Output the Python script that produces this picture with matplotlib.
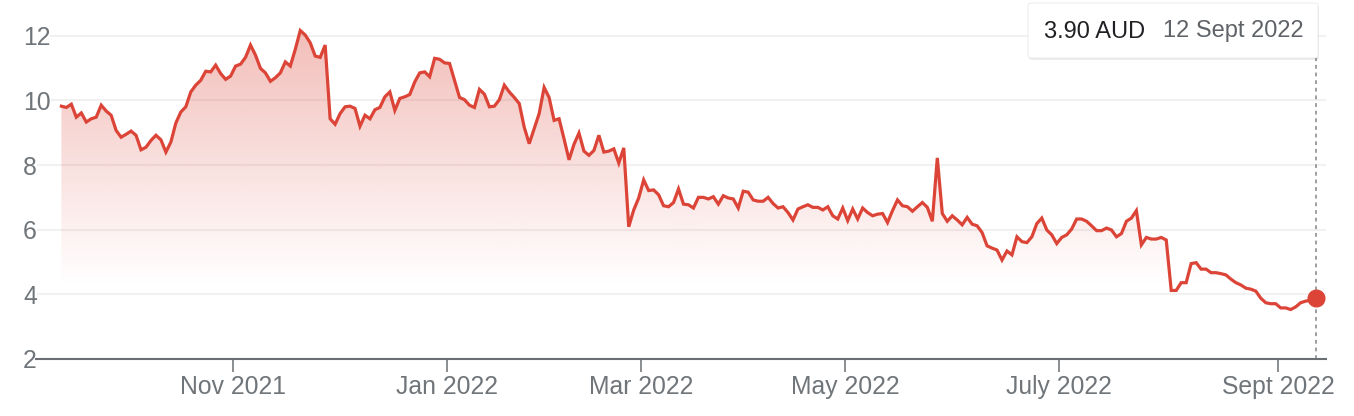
import numpy as np
import pandas as pd
import matplotlib
matplotlib.use('Agg')
import matplotlib.pyplot as plt
from matplotlib.patches import Polygon, FancyBboxPatch
from matplotlib.colors import to_rgb

plt.rcParams['font.family'] = ['Liberation Sans', 'DejaVu Sans']

# daily close, AUD, one value per ASX trading day
close = [
    9.82, 9.78, 9.88, 9.48, 9.61, 9.33, 9.43, 9.48, 9.85, 9.67,
    9.54, 9.07, 8.86, 8.95, 9.05, 8.92, 8.47, 8.55, 8.76, 8.92,
    8.78, 8.40, 8.71, 9.30, 9.64, 9.80, 10.26, 10.47, 10.62, 10.90,
    10.88, 11.09, 10.83, 10.65, 10.75, 11.06, 11.12, 11.33, 11.71, 11.40,
    10.99, 10.85, 10.59, 10.70, 10.85, 11.19, 11.06, 11.58, 12.16, 12.02,
    11.78, 11.37, 11.33, 11.71, 9.43, 9.26, 9.59, 9.80,
    9.82, 9.75, 9.20, 9.54, 9.43, 9.71, 9.78, 10.11, 10.26, 9.69,
    10.06, 10.11, 10.18, 10.57, 10.85, 10.88, 10.73, 11.30, 11.27, 11.16,
    11.14, 10.62, 10.09, 10.02, 9.85, 9.78, 10.34, 10.19, 9.80, 9.82,
    10.02, 10.47, 10.26, 10.09, 9.90, 9.17, 8.66, 9.12, 9.59, 10.40,
    10.09, 9.38, 9.43, 8.81, 8.16, 8.64, 8.99, 8.43, 8.30, 8.45,
    8.92, 8.40, 8.43, 8.50, 8.06, 8.53, 6.09, 6.61, 6.98, 7.54,
    7.21,
    7.23, 7.08, 6.74, 6.71, 6.84, 7.26, 6.79, 6.77, 6.67, 7.00,
    7.00, 6.95, 7.02, 6.79, 7.05, 6.98, 6.95, 6.67, 7.19, 7.16,
    6.92, 6.88, 6.88, 7.00, 6.81, 6.67, 6.71, 6.53, 6.30, 6.64,
    6.71, 6.77, 6.69, 6.69, 6.61, 6.71, 6.43, 6.33, 6.67, 6.28,
    6.64, 6.33, 6.67, 6.53, 6.43, 6.48, 6.50, 6.22, 6.59, 6.92,
    6.74, 6.71, 6.57, 6.71, 6.84, 6.69, 6.26, 8.22, 6.50, 6.26,
    6.43, 6.30, 6.15, 6.38, 6.17, 6.12, 5.91, 5.50, 5.43, 5.37,
    5.06, 5.34, 5.22, 5.78, 5.63, 5.60, 5.78, 6.19, 6.36, 5.99,
    5.84, 5.57, 5.76, 5.84, 6.02, 6.33, 6.33, 6.26, 6.12, 5.97,
    5.97, 6.05, 5.99, 5.78, 5.88, 6.26, 6.36, 6.59, 5.53, 5.76,
    5.71, 5.71, 5.76, 5.68, 4.12, 4.12, 4.36, 4.36, 4.95, 4.98,
    4.78, 4.78, 4.67, 4.67, 4.64, 4.60, 4.47, 4.36, 4.29, 4.19,
    4.16, 4.10, 3.88, 3.74, 3.71, 3.71, 3.58, 3.58, 3.53, 3.61,
    3.74, 3.79, 3.81, 3.90,
]

# ASX holidays inside the range (no trading, so no point on the axis)
holidays = ['2021-12-27', '2021-12-28', '2022-01-03', '2022-01-26',
            '2022-04-15', '2022-04-18', '2022-04-25', '2022-06-13']
dates = pd.bdate_range('2021-09-13', '2022-09-12', freq='C', holidays=holidays)

tick_dates = ['2021-11-01', '2022-01-01', '2022-03-01', '2022-05-01', '2022-07-01', '2022-09-01']
tick_labels = ['Nov 2021', 'Jan 2022', 'Mar 2022', 'May 2022', 'July 2022', 'Sept 2022']
y_ticks = [2, 4, 6, 8, 10, 12]

tip_price = '3.90 AUD'
tip_date = '12 Sept 2022'

red = '#db4437'
grey = '#70757a'

fig = plt.figure(figsize=(13.54, 4.16), dpi=100)
ax = fig.add_axes([0.02659, 0.13702, 0.95273, 0.82692])

# trading-day axis: one step per session
x = np.arange(len(close))
ax.plot(x, close, color=red, lw=2.3, zorder=3, solid_joinstyle='miter')
ax.plot(x[-1:], close[-1:], 'o', color=red, ms=12, zorder=4)

# gradient fill under the line
poly = np.vstack([[x[0], 2], np.column_stack([x, close]), [x[-1], 2]])
patch = Polygon(poly, closed=True, facecolor='none', edgecolor='none')
ax.add_patch(patch)
grad = np.zeros((256, 1, 4))
grad[..., :3] = to_rgb(red)
grad[:, 0, 3] = np.linspace(0, 0.35, 256)
im = ax.imshow(grad, extent=[x[0], x[-1], 4.3, 12.2], origin='lower',
               aspect='auto', zorder=1, interpolation='bilinear')
im.set_clip_path(patch)

# hover line at last point
ax.vlines(x[-1], 2, 11.3, colors='#80868b', lw=1.1, linestyles=(0, (2.5, 2.5)), zorder=2)

ax.set_xlim(-5.1, len(close) + 1.1)
ax.set_ylim(2, 12.64)

ax.set_yticks(y_ticks)
ax.set_yticklabels([str(v) for v in y_ticks])
# month ticks sit between the last session of one month and the first of the next
tick_pos = [dates.searchsorted(pd.Timestamp(d)) - 0.5 for d in tick_dates]
ax.set_xticks(tick_pos)
ax.set_xticklabels(tick_labels)

for s in ['top', 'right', 'left']:
    ax.spines[s].set_visible(False)
ax.spines['bottom'].set_color('#6b6f73')
ax.spines['bottom'].set_linewidth(1.5)

ax.grid(axis='y', color='#f1f1f1', lw=1.5)
ax.set_axisbelow(True)
ax.tick_params(axis='y', length=0, pad=9.4, labelsize=17.8, labelcolor=grey)
for lab in ax.get_yticklabels():
    lab.set_horizontalalignment('left')
    lab.set_bbox(dict(facecolor='white', edgecolor='none', pad=0))
ax.tick_params(axis='x', direction='out', length=9.4, width=1.1, color='#6b6f73',
               pad=1.8, labelsize=17.8, labelcolor=grey)

# tooltip box
shadow = FancyBboxPatch((1029 / 1354, (416 - 60) / 416), 290 / 1354, 55 / 416,
                        boxstyle='round,pad=0,rounding_size=0.004', transform=fig.transFigure,
                        facecolor='#000000', alpha=0.08, edgecolor='none')
box = FancyBboxPatch((1028 / 1354, (416 - 58) / 416), 290 / 1354, 55 / 416,
                     boxstyle='round,pad=0,rounding_size=0.004', transform=fig.transFigure,
                     facecolor='white', edgecolor='#e8e8e8', lw=0.6)
fig.patches.extend([shadow, box])
fig.text(1044 / 1354, (416 - 37.5) / 416, tip_price, color='#202124', fontsize=17, va='baseline')
fig.text(1163 / 1354, (416 - 37.5) / 416, tip_date, color='#5f6368', fontsize=17, va='baseline')

fig.savefig('out.png', dpi=100)
